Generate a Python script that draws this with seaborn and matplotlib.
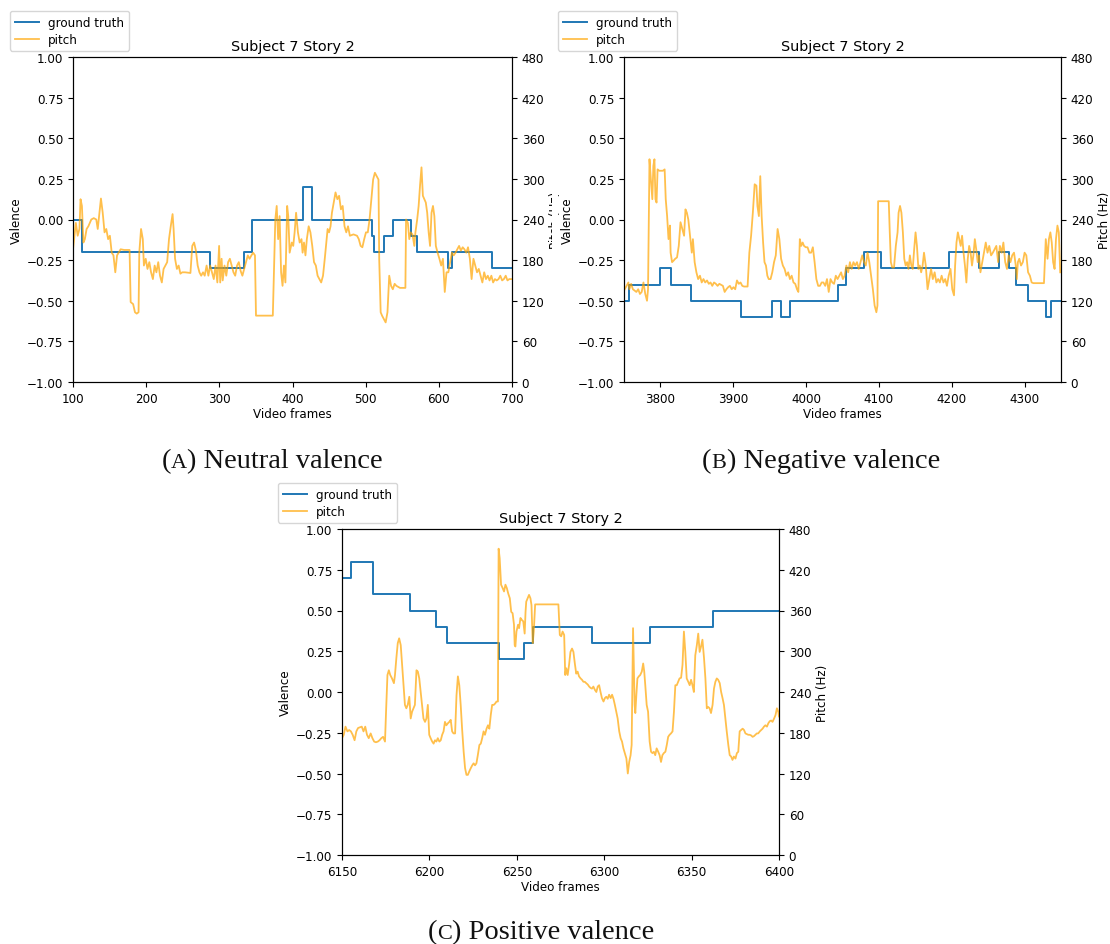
import numpy as np
import pandas as pd
import matplotlib
matplotlib.use("Agg")
import matplotlib.pyplot as plt
import seaborn as sns
from matplotlib.patches import Rectangle

# ---------------- data ----------------
# Panel A (neutral valence)
a_gt_frames = [100, 112, 287, 334, 344, 415, 426, 508, 511, 525, 537, 562, 570, 612, 618, 672, 700]
a_gt_values = [0.0, -0.2, -0.3, -0.2, 0.0, 0.2, 0.0, -0.1, -0.2, -0.1, 0.0, -0.1, -0.2, -0.3, -0.2, -0.3, -0.3]
a_pitch_frames = [100, 102.4, 103.9, 106.4, 108.8, 110.3, 112.2, 114.2, 116.2, 118.6, 121, 125, 128.4, 131.8, 133.8, 135.7, 138.2, 140.6, 143.1, 145.5, 148, 150.4, 152.9, 155.3, 157.8, 160.2, 165.1, 170, 177.3, 178.8, 182.2, 184.7, 187.1, 189.6, 190.6, 193, 195.4, 196.9, 199.4, 201.8, 204.3, 206.7, 209.2, 211.6, 214, 216.5, 218.9, 221.4, 223.8, 226.3, 228.7, 231.2, 233.6, 236.1, 237.5, 239.5, 242, 244.4, 246.8, 249.3, 253.2, 260.5, 263, 265.5, 268, 270.4, 272.8, 275.2, 277.7, 280, 282.6, 285, 287.5, 290, 292.4, 294.8, 297.3, 299.7, 301.2, 303.1, 304.6, 307.1, 309.5, 312, 314.4, 316.9, 319.3, 321.7, 324.2, 326.6, 329.1, 331.5, 334, 336.4, 338.9, 341.3, 343.8, 346.2, 348.7, 350.1, 373.1, 374.6, 376.5, 378.4, 380.4, 382.4, 384.4, 386.4, 388.3, 390.3, 392.7, 394.2, 396.1, 399, 401, 402.9, 404.9, 407.4, 409.8, 412.3, 413.8, 415.7, 417.7, 419.6, 422.1, 424.5, 427, 429.4, 431.9, 434.3, 436.8, 439.2, 441.7, 444.1, 446.6, 448, 450, 452, 453.9, 456.4, 458.8, 461.3, 463.7, 466.2, 468.6, 471.1, 473.5, 475.9, 478.4, 483.3, 488.2, 490.6, 493.1, 495.5, 498, 500.4, 502.9, 505.3, 507.8, 510.2, 512.6, 515.1, 517.5, 518.5, 520.5, 522.4, 524.9, 527.3, 529.8, 532.2, 534.7, 537.1, 539.6, 542, 546.9, 554.3, 555.2, 557.7, 559.6, 561.6, 564, 566.5, 568, 570.4, 572.4, 574.3, 576.3, 578.2, 580.2, 582.2, 584.1, 586.1, 588, 590, 592, 593.9, 595.9, 598.3, 600.8, 603.2, 605.6, 608.1, 610.5, 613, 615.4, 617.9, 620.3, 622.8, 625.2, 627.7, 630.1, 632.6, 635, 637.5, 639.9, 642.4, 644.8, 647.3, 649.7, 652.2, 654.6, 657.1, 659.5, 662, 664.4, 666.9, 669.3, 671.8, 674.2, 676.7, 679.1, 681.6, 684, 686.5, 688.9, 691.4, 693.8, 696.3, 700]
a_pitch_hz = [196, 220, 235, 216, 226, 270, 260, 206, 211, 226, 230, 240, 242, 240, 226, 245, 271, 250, 221, 226, 211, 216, 191, 187, 162, 187, 196, 195, 195, 118, 115, 103, 101, 103, 191, 226, 211, 172, 182, 167, 177, 162, 152, 172, 162, 177, 157, 147, 167, 172, 177, 211, 230, 248, 226, 182, 167, 172, 160, 162, 162, 161, 201, 206, 194, 172, 162, 157, 162, 157, 172, 157, 172, 162, 152, 172, 147, 201, 147, 182, 150, 172, 157, 177, 182, 172, 162, 157, 172, 177, 164, 157, 167, 177, 187, 182, 187, 191, 187, 98, 98, 162, 240, 260, 211, 245, 162, 142, 172, 147, 260, 245, 191, 206, 201, 221, 250, 221, 206, 211, 191, 206, 187, 211, 230, 221, 201, 177, 172, 157, 152, 147, 157, 182, 211, 226, 221, 230, 250, 265, 280, 270, 275, 255, 260, 230, 221, 230, 216, 218, 216, 211, 201, 199, 211, 221, 221, 240, 270, 299, 309, 304, 299, 182, 103, 98, 93, 88, 103, 157, 142, 137, 145, 142, 139, 139, 240, 235, 211, 221, 218, 201, 221, 240, 260, 290, 317, 275, 270, 265, 250, 221, 201, 250, 260, 245, 201, 191, 182, 172, 182, 133, 162, 162, 177, 191, 187, 191, 196, 201, 194, 199, 196, 191, 199, 182, 152, 182, 172, 162, 167, 157, 147, 162, 152, 157, 150, 157, 147, 152, 150, 152, 157, 150, 152, 157, 150, 152, 152]

# Panel B (negative valence)
b_gt_frames = [3750, 3757, 3800, 3814, 3842, 3910, 3953, 3966, 3978, 4044, 4055, 4080, 4103, 4196, 4238, 4265, 4278, 4288, 4305, 4329, 4336, 4350]
b_gt_values = [-0.5, -0.4, -0.3, -0.4, -0.5, -0.6, -0.5, -0.6, -0.5, -0.4, -0.3, -0.2, -0.3, -0.2, -0.3, -0.2, -0.3, -0.4, -0.5, -0.6, -0.5, -0.5]
b_pitch_frames = [3751, 3753.5, 3756, 3757.4, 3759.8, 3762.2, 3764.6, 3767, 3769.5, 3771.9, 3774.3, 3776.7, 3779.2, 3781.6, 3783, 3785, 3786.9, 3788.9, 3790.3, 3791.8, 3793.2, 3794.7, 3796.1, 3798.5, 3803.4, 3805.8, 3807.3, 3809.2, 3811.1, 3813.1, 3814, 3816, 3817.9, 3820.3, 3822.8, 3825.2, 3827.6, 3830, 3832.5, 3834.4, 3836.3, 3838.3, 3841.2, 3843.1, 3844.6, 3847, 3849.4, 3851.8, 3854.3, 3856.7, 3859.1, 3861.5, 3864, 3866.4, 3868.8, 3871.2, 3873.6, 3876.1, 3878.5, 3880.9, 3885.8, 3888.2, 3890.6, 3893, 3895.4, 3897.9, 3900.3, 3902.7, 3905.1, 3907.6, 3910, 3912.4, 3914.8, 3919.7, 3922.1, 3924.5, 3926.9, 3929.4, 3931.8, 3933.2, 3935.2, 3937.1, 3939, 3941, 3942.9, 3944.9, 3946.8, 3948.7, 3951.2, 3953.6, 3956, 3958.4, 3960.9, 3963.3, 3965.7, 3968.1, 3970.5, 3973, 3975.4, 3977.8, 3980.2, 3982.7, 3985.1, 3987.5, 3989.4, 3991.4, 3993.3, 3995.3, 3997.2, 3999.6, 4002, 4004.5, 4006.9, 4009.3, 4011.7, 4014.1, 4016.6, 4019, 4021.4, 4023.8, 4026.3, 4028.7, 4031.1, 4033.5, 4036, 4038.4, 4040.8, 4043.2, 4045.6, 4048.1, 4050.5, 4052.9, 4055.3, 4057.8, 4060.2, 4062.6, 4065, 4067.4, 4069.9, 4072.3, 4074.7, 4077.1, 4079.6, 4082, 4084.4, 4086.8, 4089.2, 4091.7, 4094.1, 4096.5, 4098, 4098.9, 4101.4, 4113.5, 4114.9, 4116.4, 4118.3, 4120.7, 4123.2, 4125.6, 4127, 4129, 4130.9, 4132.9, 4134.8, 4136.7, 4138.7, 4140.6, 4142.5, 4144.5, 4146.4, 4148.4, 4150.3, 4152.2, 4154.2, 4156.1, 4158, 4160, 4161.9, 4164.3, 4166.8, 4169.2, 4171.6, 4174, 4176.5, 4178.9, 4181.3, 4183.7, 4186.1, 4188.6, 4191, 4193.4, 4195.8, 4198.3, 4200.7, 4203.1, 4204.6, 4206.5, 4208.4, 4210.4, 4212.3, 4214.2, 4216.2, 4218.1, 4220.1, 4222, 4223.9, 4225.9, 4227.8, 4229.7, 4231.7, 4233.6, 4235.6, 4237.5, 4239.4, 4241.9, 4244.3, 4246.7, 4249.1, 4251.5, 4254, 4256.4, 4258.8, 4261.2, 4263.7, 4266.1, 4268.5, 4270.9, 4273.4, 4275.8, 4278.2, 4280.6, 4283, 4285.5, 4287.9, 4289.3, 4290.8, 4292.7, 4295.1, 4297.6, 4300, 4302.4, 4304.8, 4307.3, 4309.7, 4312.1, 4326.6, 4329.1, 4331.5, 4333.4, 4335.4, 4337.3, 4339.2, 4341.2, 4343.1, 4345.1, 4347, 4348.9]
b_pitch_hz = [137, 142, 147, 137, 145, 137, 135, 133, 137, 130, 133, 147, 130, 120, 137, 329, 299, 270, 319, 329, 270, 265, 314, 312, 312, 314, 270, 245, 211, 231, 191, 177, 179, 182, 184, 201, 236, 226, 216, 255, 250, 240, 211, 191, 211, 177, 162, 152, 157, 147, 152, 147, 150, 145, 147, 142, 147, 145, 142, 145, 142, 133, 137, 140, 142, 137, 140, 137, 150, 145, 147, 142, 141, 141, 191, 216, 250, 292, 290, 260, 245, 304, 245, 206, 177, 172, 157, 152, 152, 162, 177, 187, 226, 211, 182, 172, 167, 157, 162, 152, 157, 147, 145, 137, 133, 211, 201, 206, 201, 199, 199, 191, 191, 199, 177, 152, 142, 142, 147, 147, 142, 152, 133, 152, 147, 145, 157, 152, 157, 162, 152, 157, 172, 162, 177, 167, 177, 172, 177, 167, 177, 187, 177, 172, 191, 177, 157, 137, 113, 103, 113, 267, 267, 267, 221, 177, 169, 169, 201, 221, 250, 260, 250, 221, 182, 172, 177, 167, 187, 172, 167, 196, 221, 201, 167, 172, 162, 172, 191, 172, 137, 152, 167, 152, 162, 147, 152, 147, 157, 147, 152, 142, 157, 167, 137, 128, 172, 206, 221, 211, 201, 216, 191, 172, 147, 182, 201, 191, 172, 187, 211, 196, 177, 187, 162, 177, 191, 206, 191, 201, 187, 191, 196, 201, 177, 201, 191, 206, 177, 167, 187, 177, 187, 191, 172, 152, 177, 182, 172, 177, 191, 187, 162, 157, 147, 146, 146, 211, 182, 211, 221, 206, 177, 167, 211, 231, 221, 162]

# Panel C (positive valence)
c_gt_frames = [6150, 6155, 6168, 6189, 6204, 6210, 6240, 6254, 6259, 6293, 6326, 6362, 6400]
c_gt_values = [0.7, 0.8, 0.6, 0.5, 0.4, 0.3, 0.2, 0.3, 0.4, 0.3, 0.4, 0.5, 0.5]
c_pitch_frames = [6150, 6151, 6152, 6153.1, 6154.1, 6155.1, 6156.1, 6157.2, 6158.2, 6159.2, 6160.2, 6161.3, 6162.3, 6163.3, 6164.3, 6165.3, 6166.4, 6167.4, 6168.4, 6169.4, 6170.5, 6171.5, 6172.5, 6173.5, 6174.6, 6175.2, 6176, 6176.8, 6177.6, 6178.6, 6179.7, 6180.3, 6181.1, 6181.9, 6182.7, 6183.6, 6184.4, 6185.2, 6186, 6186.8, 6187.6, 6188.5, 6189.3, 6190.1, 6190.9, 6191.7, 6192.6, 6193.4, 6194.2, 6195, 6195.8, 6196.6, 6197.5, 6198.3, 6199.1, 6199.9, 6200.7, 6201.6, 6202.4, 6203.2, 6204, 6204.8, 6205.7, 6206.5, 6207.3, 6208.1, 6208.9, 6209.7, 6210.6, 6211.4, 6212.2, 6213, 6213.8, 6214.7, 6215.5, 6216.3, 6217.1, 6217.9, 6218.7, 6219.6, 6220.4, 6221.2, 6222, 6222.8, 6223.7, 6224.5, 6225.3, 6226.1, 6226.9, 6227.7, 6228.6, 6229.4, 6230.2, 6231, 6231.8, 6232.7, 6233.5, 6234.3, 6235.1, 6235.9, 6236.8, 6237.6, 6238.4, 6239.2, 6239.6, 6240.2, 6241, 6241.9, 6242.7, 6243.5, 6244.3, 6245.1, 6246, 6246.8, 6247.6, 6248.4, 6248.8, 6249.2, 6249.8, 6250.7, 6251.3, 6252.1, 6252.9, 6253.7, 6254.5, 6255, 6255.4, 6256.2, 6257, 6257.8, 6258.4, 6259.1, 6259.7, 6260.5, 6261.5, 6273.8, 6274.6, 6275.4, 6276.2, 6277.1, 6277.7, 6278.3, 6279.1, 6279.9, 6280.7, 6281.6, 6282.4, 6283.2, 6284, 6284.8, 6285.6, 6286.5, 6287.3, 6288.1, 6288.9, 6289.7, 6290.6, 6291.4, 6292.2, 6293, 6293.8, 6294.7, 6295.5, 6296.3, 6297.1, 6297.9, 6298.7, 6299.6, 6300.4, 6301.2, 6302, 6302.8, 6303.7, 6304.5, 6305.3, 6306.1, 6306.9, 6307.7, 6308.6, 6309.4, 6310.2, 6311, 6311.8, 6312.7, 6313.5, 6314.3, 6315.1, 6315.7, 6316.5, 6317.4, 6317.8, 6318.4, 6319, 6319.8, 6320.6, 6321.5, 6322.3, 6322.9, 6323.5, 6324.3, 6325.1, 6326, 6326.8, 6327.6, 6328.4, 6329.2, 6330, 6330.9, 6331.7, 6332.5, 6333.3, 6334.1, 6335, 6335.8, 6336.6, 6337.4, 6338.2, 6339.1, 6339.9, 6340.7, 6341.5, 6342.3, 6343.1, 6344, 6344.8, 6345.6, 6346.4, 6347.2, 6348.1, 6348.9, 6349.7, 6350.5, 6351.3, 6352.1, 6353, 6353.8, 6354.6, 6355.4, 6356.2, 6357.1, 6357.9, 6358.7, 6359.5, 6360.3, 6361.1, 6362, 6362.8, 6363.6, 6364.4, 6365.2, 6366.1, 6366.9, 6367.7, 6368.5, 6369.3, 6370.1, 6371, 6371.8, 6372.6, 6373.4, 6374.2, 6375.1, 6375.9, 6376.7, 6377.5, 6378.3, 6379.2, 6380, 6380.8, 6381.6, 6382.4, 6383.2, 6384.1, 6384.9, 6385.7, 6386.5, 6387.3, 6388.1, 6389, 6389.8, 6390.6, 6391.4, 6392.2, 6393.1, 6393.9, 6394.7, 6395.5, 6396.3, 6397.2, 6398, 6398.8, 6399.6, 6400]
c_pitch_hz = [172, 177, 189, 182, 184, 182, 177, 169, 182, 187, 188, 189, 182, 189, 177, 172, 179, 172, 167, 166, 167, 169, 172, 174, 167, 211, 265, 272, 265, 260, 253, 265, 290, 312, 319, 309, 280, 250, 221, 216, 221, 233, 201, 211, 216, 221, 272, 270, 260, 240, 221, 201, 196, 201, 221, 177, 172, 167, 164, 169, 167, 172, 167, 169, 177, 182, 196, 191, 194, 196, 199, 182, 179, 179, 235, 263, 250, 221, 186, 152, 128, 118, 118, 123, 128, 132, 135, 132, 135, 147, 162, 164, 172, 182, 177, 186, 191, 186, 206, 221, 221, 223, 226, 226, 451, 437, 398, 393, 388, 398, 393, 385, 378, 358, 356, 339, 309, 307, 329, 339, 334, 349, 346, 344, 326, 358, 373, 378, 383, 378, 368, 312, 329, 369, 369, 369, 324, 322, 329, 324, 265, 275, 265, 280, 299, 304, 299, 282, 267, 270, 263, 260, 258, 255, 255, 253, 251, 248, 246, 245, 248, 243, 240, 248, 250, 240, 231, 226, 231, 233, 230, 236, 231, 236, 230, 221, 211, 201, 182, 172, 167, 157, 150, 142, 120, 137, 147, 162, 334, 221, 209, 236, 260, 263, 265, 270, 282, 270, 250, 221, 211, 167, 152, 150, 152, 147, 157, 152, 147, 137, 147, 150, 152, 162, 174, 177, 179, 182, 211, 250, 250, 255, 260, 261, 280, 329, 299, 260, 255, 250, 258, 250, 240, 294, 309, 326, 299, 307, 317, 290, 260, 216, 218, 216, 209, 221, 245, 255, 260, 258, 253, 240, 231, 221, 201, 182, 162, 147, 145, 140, 145, 142, 150, 152, 182, 184, 186, 184, 179, 178, 177, 177, 176, 174, 175, 177, 179, 179, 182, 184, 186, 189, 191, 189, 194, 197, 198, 196, 201, 206, 216, 211, 204]

title_text = "Subject 7 Story 2"
valence_ticks = [-1.0, -0.75, -0.5, -0.25, 0.0, 0.25, 0.5, 0.75, 1.0]
pitch_ticks = [0, 60, 120, 180, 240, 300, 360, 420, 480]
a_xticks = [100, 200, 300, 400, 500, 600, 700]
b_xticks = [3800, 3900, 4000, 4100, 4200, 4300]
c_xticks = [6150, 6200, 6250, 6300, 6350, 6400]
legend_labels = ["ground truth", "pitch"]
captions = [("A", "Neutral valence"), ("B", "Negative valence"), ("C", "Positive valence")]

# ---------------- figure ----------------
W, H = 1110, 945
fig = plt.figure(figsize=(W / 100, H / 100), dpi=100)
plt.rcParams["font.family"] = ["DejaVu Sans"]

FS = 8.6
GT_COLOR = "#1f77b4"
PITCH_COLOR = "orange"


def px_axes(l, t, r, b):
    return fig.add_axes([l / W, 1 - b / H, (r - l) / W, (b - t) / H])


def panel(rect, gt_f, gt_v, p_f, p_hz, xlim, xticks, legend_px, z):
    ax = px_axes(*rect)
    sns.lineplot(x=gt_f, y=gt_v, ax=ax, color=GT_COLOR, lw=1.4,
                 drawstyle="steps-post", estimator=None, errorbar=None, legend=False)
    ax2 = ax.twinx()
    sns.lineplot(x=p_f, y=p_hz, ax=ax2, color=PITCH_COLOR, alpha=0.7, lw=1.3,
                 estimator=None, errorbar=None, legend=False)
    ax.set_zorder(z)
    ax2.set_zorder(z)
    ax.set_xlim(*xlim)
    ax.set_xticks(xticks)
    ax.set_ylim(-1, 1)
    ax.set_yticks(valence_ticks)
    ax.set_yticklabels([f"{v:.2f}".replace("-", "\u2212") for v in valence_ticks])
    ax2.set_ylim(0, 480)
    ax2.set_yticks(pitch_ticks)
    for a in (ax, ax2):
        a.tick_params(labelsize=FS, length=3.5, width=0.8)
        for s in a.spines.values():
            s.set_linewidth(0.8)
    ax.set_xlabel("Video frames", fontsize=FS, labelpad=2)
    ax.set_ylabel("Valence", fontsize=FS, labelpad=3)
    ax2.set_ylabel("Pitch (Hz)", fontsize=FS, labelpad=3)
    ax.set_title(title_text, fontsize=10.4, pad=5)
    handles = [ax.get_lines()[0], ax2.get_lines()[0]]
    leg = fig.legend(handles, legend_labels, loc="upper left",
                     bbox_to_anchor=(legend_px[0] / W, 1 - legend_px[1] / H),
                     bbox_transform=fig.transFigure, fontsize=FS,
                     borderaxespad=0, handlelength=2.0, labelspacing=0.35,
                     borderpad=0.4, framealpha=0.8)
    leg.set_zorder(z + 0.5)
    return ax, ax2


panel((73, 58, 512, 383), a_gt_frames, a_gt_values, a_pitch_frames, a_pitch_hz,
      (100, 700), a_xticks, (10, 12), 0)
# white margin of panel B covers the end of panel A's right label
fig.add_artist(Rectangle((552 / W, 1 - 300 / H), 6 / W, 200 / H, transform=fig.transFigure,
                         facecolor="white", edgecolor="none", zorder=1))
panel((624, 58, 1061, 383), b_gt_frames, b_gt_values, b_pitch_frames, b_pitch_hz,
      (3750, 4350), b_xticks, (558, 12), 2)
panel((342, 530, 779, 856), c_gt_frames, c_gt_values, c_pitch_frames, c_pitch_hz,
      (6150, 6400), c_xticks, (278, 484), 2)

# ---------------- captions with small-caps letters ----------------
renderer = fig.canvas.get_renderer()
CAP_FS = 20.5
SERIF = ["Liberation Serif", "DejaVu Serif"]


def caption(cx, base_y, letter, rest):
    parts = [("(", CAP_FS), (letter, CAP_FS * 0.78), (") " + rest, CAP_FS)]
    texts = []
    widths = []
    for s, size in parts:
        t = fig.text(0, 1 - base_y / H, s, fontsize=size, family=SERIF,
                     va="baseline", ha="left", color="#111111")
        texts.append(t)
        widths.append(t.get_window_extent(renderer).width)
    x = cx - sum(widths) / 2
    for t, w in zip(texts, widths):
        t.set_x(x / W)
        x += w


caption(272, 468, *captions[0])
caption(821, 468, *captions[1])
caption(541, 939, *captions[2])

fig.savefig("out.png", dpi=100, facecolor="white")
